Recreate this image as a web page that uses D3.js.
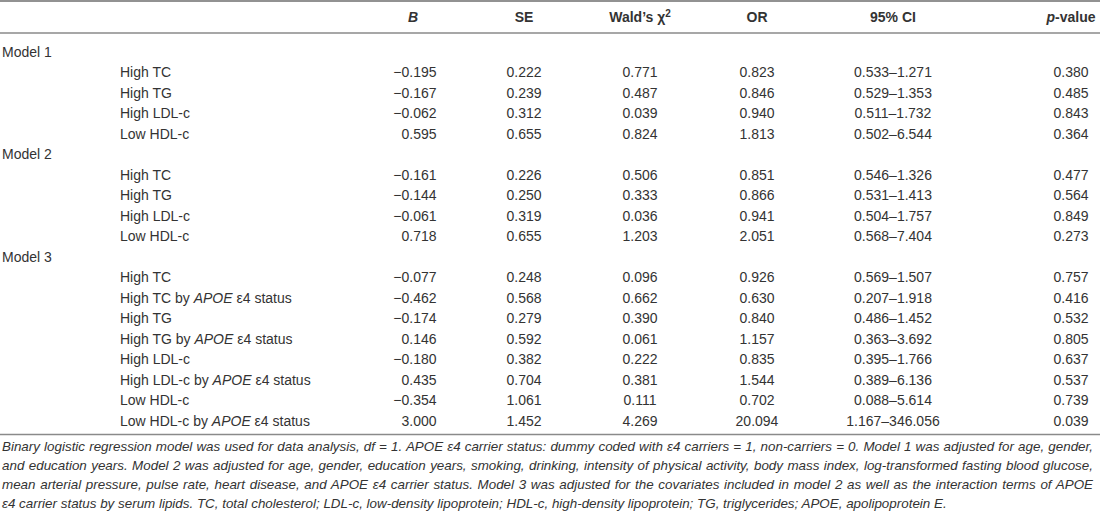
<!DOCTYPE html>
<html>
<head>
<meta charset="utf-8">
<script src="https://cdn.jsdelivr.net/npm/d3@7"></script>
<style>
  html, body { margin: 0; padding: 0; background: #fff; }
  svg { display: block; }
  text { font-family: "Liberation Sans", Arial, Helvetica, sans-serif; fill: #333; }
</style>
</head>
<body>
<svg id="chart" width="1100" height="520"></svg>
<script>
// ---- data ----
const columns = ["B", "SE", "Wald", "OR", "CI", "p"];
const rowModels = ["Model 1", "Model 2", "Model 3"];
const rowLabels = [
  "High TC", "High TG", "High LDL-c", "Low HDL-c",
  "High TC", "High TG", "High LDL-c", "Low HDL-c",
  "High TC", "High TC by APOE ε4 status", "High TG", "High TG by APOE ε4 status",
  "High LDL-c", "High LDL-c by APOE ε4 status", "Low HDL-c", "Low HDL-c by APOE ε4 status"
];
const rowModelIndex = [0,0,0,0, 1,1,1,1, 2,2,2,2,2,2,2,2];
const bValues    = ["−0.195","−0.167","−0.062","0.595","−0.161","−0.144","−0.061","0.718","−0.077","−0.462","−0.174","0.146","−0.180","0.435","−0.354","3.000"];
const seValues   = ["0.222","0.239","0.312","0.655","0.226","0.250","0.319","0.655","0.248","0.568","0.279","0.592","0.382","0.704","1.061","1.452"];
const waldValues = ["0.771","0.487","0.039","0.824","0.506","0.333","0.036","1.203","0.096","0.662","0.390","0.061","0.222","0.381","0.111","4.269"];
const orValues   = ["0.823","0.846","0.940","1.813","0.851","0.866","0.941","2.051","0.926","0.630","0.840","1.157","0.835","1.544","0.702","20.094"];
const ciValues   = ["0.533–1.271","0.529–1.353","0.511–1.732","0.502–6.544","0.546–1.326","0.531–1.413","0.504–1.757","0.568–7.404","0.569–1.507","0.207–1.918","0.486–1.452","0.363–3.692","0.395–1.766","0.389–6.136","0.088–5.614","1.167–346.056"];
const pValues    = ["0.380","0.485","0.843","0.364","0.477","0.564","0.849","0.273","0.757","0.416","0.532","0.805","0.637","0.537","0.739","0.039"];
const footnoteLines = [
  "Binary logistic regression model was used for data analysis, df = 1. APOE ε4 carrier status: dummy coded with ε4 carriers = 1, non-carriers = 0. Model 1 was adjusted for age, gender,",
  "and education years. Model 2 was adjusted for age, gender, education years, smoking, drinking, intensity of physical activity, body mass index, log-transformed fasting blood glucose,",
  "mean arterial pressure, pulse rate, heart disease, and APOE ε4 carrier status. Model 3 was adjusted for the covariates included in model 2 as well as the interaction terms of APOE",
  "ε4 carrier status by serum lipids. TC, total cholesterol; LDL-c, low-density lipoprotein; HDL-c, high-density lipoprotein; TG, triglycerides; APOE, apolipoprotein E."
];

// ---- build table rows ----
const rows = [];
let last = -1;
rowLabels.forEach((lab, i) => {
  const m = rowModelIndex[i];
  if (m !== last) { rows.push({ type: "model", label: rowModels[m] }); last = m; }
  rows.push({ type: "data", label: lab,
    vals: { B: bValues[i], SE: seValues[i], Wald: waldValues[i], OR: orValues[i], CI: ciValues[i], p: pValues[i] } });
});

const svg = d3.select("#chart");
const W = 1100;

const y = d3.scalePoint().domain(d3.range(rows.length)).range([51.5, 421]);
const colX = d3.scaleOrdinal().domain(columns).range([413, 524, 640, 757, 893, 1071]);

// rules
const rules = [
  { y: 1, c: "#6e6e6e", w: 1.6 },
  { y: 33, c: "#8a8a8a", w: 1.3 },
  { y: 434.5, c: "#8a8a8a", w: 1.3 }
];
svg.selectAll("line.rule").data(rules).join("line")
  .attr("class", "rule").attr("x1", 0).attr("x2", W)
  .attr("y1", d => d.y).attr("y2", d => d.y)
  .attr("stroke", d => d.c).attr("stroke-width", d => d.w);

// header
const hdr = svg.append("g").attr("font-size", 14).attr("font-weight", "bold");
const hY = 22;
hdr.append("text").attr("x", colX("B")).attr("y", hY).attr("text-anchor", "middle")
  .attr("font-style", "italic").text("B");
hdr.append("text").attr("x", colX("SE")).attr("y", hY).attr("text-anchor", "middle").text("SE");
const wt = hdr.append("text").attr("x", colX("Wald")).attr("y", hY).attr("text-anchor", "middle");
wt.append("tspan").text("Wald’s χ");
wt.append("tspan").attr("dy", -5).attr("font-size", 10).text("2");
hdr.append("text").attr("x", colX("OR")).attr("y", hY).attr("text-anchor", "middle").text("OR");
hdr.append("text").attr("x", colX("CI")).attr("y", hY).attr("text-anchor", "middle").text("95% CI");
const pt = hdr.append("text").attr("x", colX("p")).attr("y", hY).attr("text-anchor", "middle");
pt.append("tspan").attr("font-style", "italic").text("p");
pt.append("tspan").text("-value");

// body
const body = svg.append("g").attr("font-size", 14);
function addLabel(g, label) {
  const parts = label.split("APOE");
  g.append("tspan").text(parts[0]);
  for (let k = 1; k < parts.length; k++) {
    g.append("tspan").attr("font-style", "italic").text("APOE");
    g.append("tspan").text(parts[k]);
  }
}
rows.forEach((r, i) => {
  const by = y(i) + 5;
  if (r.type === "model") {
    body.append("text").attr("x", 2).attr("y", by).text(r.label);
  } else {
    const t = body.append("text").attr("x", 120).attr("y", by);
    addLabel(t, r.label);
    columns.forEach(c => {
      if (c === "B") {
        body.append("text").attr("x", colX("B") + 23.5).attr("y", by)
          .attr("text-anchor", "end").text(r.vals[c]);
      } else {
        body.append("text").attr("x", colX(c)).attr("y", by)
          .attr("text-anchor", "middle").text(r.vals[c]);
      }
    });
  }
});

// footnote (justified, italic)
const fn = svg.append("g").attr("font-size", 13.4).attr("font-style", "italic");
const fy = d3.scalePoint().domain(d3.range(footnoteLines.length)).range([450.5, 507.5]);
const lineW = 1093;
footnoteLines.forEach((ln, i) => {
  const t = fn.append("text").attr("x", 2).attr("y", fy(i));
  ln.split(/(APOE)/).forEach(seg => {
    if (seg) t.append("tspan").text(seg);
  });
  if (i < footnoteLines.length - 1) {
    const len = t.node().getComputedTextLength();
    const spaces = (ln.match(/ /g) || []).length;
    const extra = (lineW - 2 - len) / spaces;
    t.attr("word-spacing", extra.toFixed(3));
  }
});
</script>
</body>
</html>
